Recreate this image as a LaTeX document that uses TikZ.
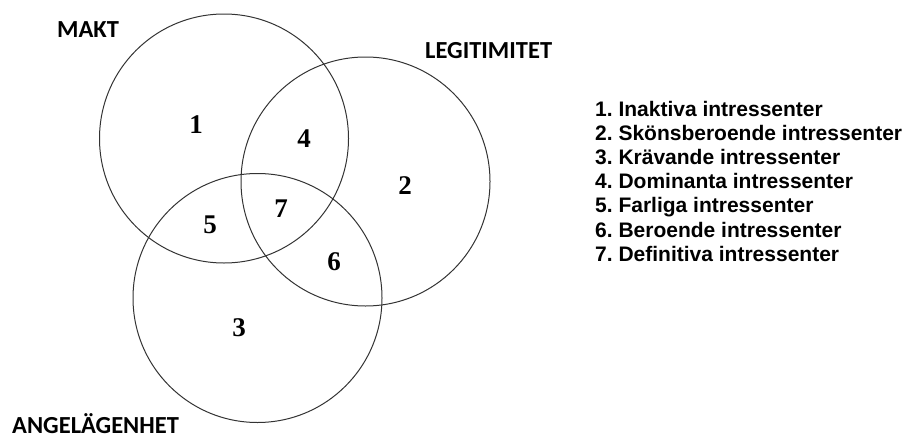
\documentclass[tikz,border=0pt]{standalone}
\usepackage{fontspec}
\setmainfont{Liberation Sans}
\newfontfamily\labelfont{Carlito}
\newfontfamily\numfont{Liberation Serif}
\frenchspacing
\begin{document}
\begin{tikzpicture}[x=1pt, y=-1pt,
  setcircle/.style={circle, draw=black!80, line width=1pt, minimum size=249pt, inner sep=0pt},
  setlabel/.style={font=\labelfont\bfseries\fontsize{24.5}{26}\selectfont, anchor=base west, inner sep=0pt},
  region/.style={font=\numfont\bfseries\fontsize{27}{29}\selectfont, inner sep=0pt},
  legend/.style={font=\bfseries\fontsize{21}{23}\selectfont, anchor=base west, inner sep=0pt}]
  \useasboundingbox (0,0) rectangle (910,439);

  % the three overlapping sets
  \node[setcircle] (makt) at (224,138.5) {};
  \node[setcircle] (legit) at (365.5,181.5) {};
  \node[setcircle] (angel) at (257.5,298) {};

  % set names
  \node[setlabel] (maktlabel) at (57,37) {MAKT};
  \node[setlabel] (legitlabel) at (425,58) {LEGITIMITET};
  \node[setlabel] (angellabel) at (12,433) {ANGELÄGENHET};

  % region numbers
  \node[region] (r1) at (196,125) {1};
  \node[region] (r2) at (405,186) {2};
  \node[region] (r3) at (239,328) {3};
  \node[region] (r4) at (304,139) {4};
  \node[region] (r5) at (210,225) {5};
  \node[region] (r6) at (334,262) {6};
  \node[region] (r7) at (281,209) {7};

  % key to the regions
  \node[legend] (k1) at (595,116) {1. Inaktiva intressenter};
  \node[legend] (k2) at (595,140) {2. Skönsberoende intressenter};
  \node[legend] (k3) at (595,164) {3. Krävande intressenter};
  \node[legend] (k4) at (595,188) {4. Dominanta intressenter};
  \node[legend] (k5) at (595,212) {5. Farliga intressenter};
  \node[legend] (k6) at (595,237) {6. Beroende intressenter};
  \node[legend] (k7) at (595,261) {7. Definitiva intressenter};
\end{tikzpicture}
\end{document}
